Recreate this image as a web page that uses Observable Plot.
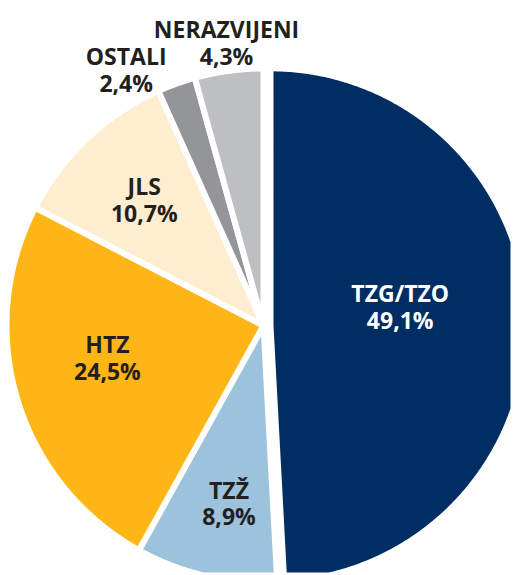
<!DOCTYPE html>
<html><head><meta charset="utf-8">
<script src="https://cdn.jsdelivr.net/npm/d3@7"></script>
<script src="https://cdn.jsdelivr.net/npm/@observablehq/plot@0.6"></script>
<style>body{margin:0;background:#fff;} #chart svg{display:block;}</style>
</head><body><div id="chart"></div>
<script>
// ---- data ----
const categories = ["TZG/TZO", "TZŽ", "HTZ", "JLS", "OSTALI", "NERAZVIJENI"];
const shares = [49.1, 8.9, 24.5, 10.7, 2.4, 4.3];
const shareLabels = ["49,1%", "8,9%", "24,5%", "10,7%", "2,4%", "4,3%"];

// ---- styles ----
const sliceColors = ["#002e62", "#9cc2dc", "#feb516", "#feedcf", "#939598", "#bdbfc1"];
const textColors = ["#ffffff", "#231f20", "#231f20", "#231f20", "#231f20", "#231f20"];

// ---- layout (view + label placement) ----
const W = 513, H = 575;
const cxPx = 263, cyPx = 325, unitPx = 257;       // pie centre and radius in pixels
const explodePx = [7, 0, 0, 0, 0, 0];
const labelRadius = [0.51, 0.705, 0.62, 0.675, 1.13, 1.11];
const labelAngleShift = [-6.7, -2, 5.2, 0, -8.4, 0.3];

const total = d3.sum(shares);
const rad = d => d * Math.PI / 180;
let acc = 0;
const slices = [], labels = [];
categories.forEach((name, i) => {
  const a0 = acc / total * 2 * Math.PI;
  acc += shares[i];
  const a1 = acc / total * 2 * Math.PI;
  const mid = (a0 + a1) / 2;
  const e = explodePx[i] / unitPx;
  const ox = Math.sin(mid) * e, oy = Math.cos(mid) * e;
  const ring = [[ox, oy]];
  const n = Math.max(2, Math.ceil((a1 - a0) / rad(0.5)));
  for (let k = 0; k <= n; k++) {
    const a = a0 + (a1 - a0) * k / n;
    ring.push([ox + Math.sin(a), oy + Math.cos(a)]);
  }
  ring.push([ox, oy]);
  slices.push({type: "Feature", properties: {name, fill: sliceColors[i]},
               geometry: {type: "Polygon", coordinates: [ring]}});
  const la = mid + rad(labelAngleShift[i]);
  labels.push({x: ox + Math.sin(la) * labelRadius[i], y: oy + Math.cos(la) * labelRadius[i],
               text: name + "\n" + shareLabels[i], color: textColors[i]});
});

const domain = {type: "MultiPoint", coordinates: [
  [-cxPx / unitPx, cyPx / unitPx],
  [(W - cxPx) / unitPx, -(H - cyPx) / unitPx]
]};

const chart = Plot.plot({
  width: W, height: H, margin: 0,
  style: {background: "#ffffff"},
  color: {type: "identity"},
  projection: {type: "reflect-y", domain, inset: 0},
  marks: [
    Plot.geo(slices, {fill: d => d.properties.fill, stroke: "#ffffff", strokeWidth: 6, strokeLinejoin: "round"}),
    Plot.text(labels, {x: "x", y: "y", text: "text", fill: "color",
      fontSize: 23, fontWeight: "bold", fontFamily: "Open Sans", lineHeight: 1.17})
  ]
});
document.getElementById("chart").appendChild(chart);
</script>
</body></html>
